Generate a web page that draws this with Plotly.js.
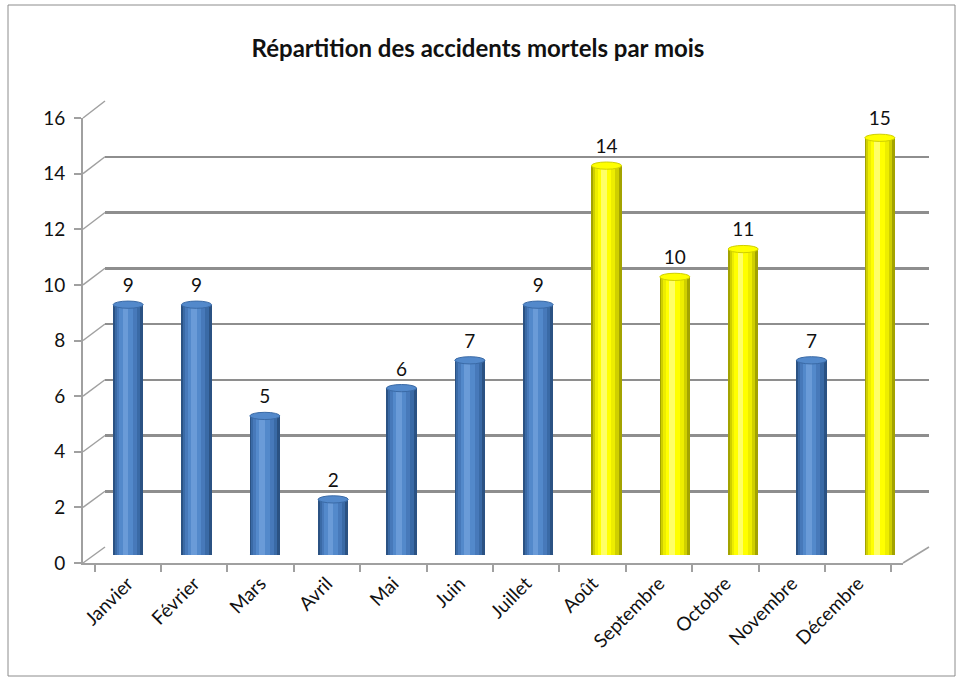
<!DOCTYPE html>
<html><head><meta charset="utf-8">
<script src="https://cdn.plot.ly/plotly-3.0.1.min.js"></script>
<style>html,body{margin:0;padding:0;background:#fff}#chart{width:960px;height:683px}</style>
</head><body><div id="chart"></div>
<script>
const months = ['Janvier','Février','Mars','Avril','Mai','Juin','Juillet','Août','Septembre','Octobre','Novembre','Décembre'];
const deaths = [9,9,5,2,6,7,9,14,10,11,7,15];
const highlighted = [false,false,false,false,false,false,false,true,true,true,false,true];
const yTicks = [0,2,4,6,8,10,12,14,16];

const W = 960, H = 683;
const fx = p => p / W, fy = p => 1 - p / H;
// geometry (pixels)
const front = {x0: 83, x1: 903, y0: 563, y16: 118};
const back  = {x0: 105, x1: 929, y0: 547, y16: 101};
const mid   = {x0: 94, x1: 914, y0: 555, y16: 110};

const blue = ['#2b5283','#3a6aa6','#4779ba','#5389cb','#6a9bd8'];
const yel  = ['#a3a300','#cfcf00','#eded00','#ffff00','#ffff66'];
const pal = i => highlighted.map(h => h ? yel[i] : blue[i]);

const idx = months.map((m,i)=>i);
const layers = [
  {w:0.44, off:-0.22, c:0},
  {w:0.38, off:-0.20, c:1},
  {w:0.30, off:-0.17, c:2},
  {w:0.20, off:-0.13, c:3},
  {w:0.08, off:-0.08, c:4}
];
const traces = [];
traces.push({x:[0,1], y:[0,16], xaxis:'x', yaxis:'y', mode:'markers', marker:{opacity:0}, hoverinfo:'skip', showlegend:false});
traces.push({x:months, y:deaths, xaxis:'x2', yaxis:'y2', type:'scatter', mode:'markers', marker:{opacity:0}, hoverinfo:'skip', showlegend:false});
layers.forEach(l => {
  traces.push({type:'bar', x:idx, y:deaths, xaxis:'x3', yaxis:'y3', width:l.w, offset:l.off,
    marker:{color:pal(l.c), line:{width:0}}, hoverinfo:'skip', showlegend:false});
});
traces.push({type:'scatter', x:idx, y:deaths, xaxis:'x3', yaxis:'y3', mode:'markers+text', cliponaxis:false,
  text:deaths.map(String), textposition:'top center', marker:{size:11, opacity:0},
  textfont:{family:'Lato, "Open Sans", sans-serif', size:19, color:'#111'}, hoverinfo:'skip', showlegend:false});

const shapes = [];
shapes.push({type:'rect', xref:'paper', yref:'paper', x0:fx(8), x1:fx(955), y0:fy(676), y1:fy(5), line:{color:'#8c8c8c', width:1}, layer:'below'});
yTicks.forEach(v => {
  const yf = front.y0 - v*(front.y0-front.y16)/16;
  const yb = back.y0 - v*(back.y0-back.y16)/16;
  shapes.push({type:'line', xref:'paper', yref:'paper', x0:fx(front.x0), y0:fy(yf), x1:fx(back.x0), y1:fy(yb), line:{color:'#a0a0a0', width:1.5}, layer:'below'});
});
shapes.push({type:'line', xref:'paper', yref:'paper', x0:fx(front.x1), y0:fy(front.y0), x1:fx(back.x1), y1:fy(back.y0), line:{color:'#a0a0a0', width:1.5}, layer:'below'});
deaths.forEach((v,i) => {
  const c = highlighted[i] ? yel : blue;
  shapes.push({type:'circle', xref:'x3', yref:'y3', x0:i-0.22, x1:i+0.22, y0:-0.13, y1:0.13, fillcolor:c[1], line:{width:0}, layer:'below'});
  shapes.push({type:'circle', xref:'x3', yref:'y3', x0:i-0.22, x1:i+0.22, y0:v-0.13, y1:v+0.13, fillcolor:c[3], line:{color:c[1], width:1}, layer:'above'});
});

const axFont = {family:'Lato, "Open Sans", sans-serif', size:19, color:'#111'};
const layout = {
  width:W, height:H, margin:{l:0,r:0,t:0,b:0}, paper_bgcolor:'#fff', plot_bgcolor:'rgba(0,0,0,0)',
  title:{text:'<b>Répartition des accidents mortels par mois</b>', font:{family:'Lato, "Open Sans", sans-serif', size:24, color:'#111'}, x:fx(478), xanchor:'center', y:fy(49), yanchor:'middle', xref:'paper', yref:'container'},
  xaxis:{domain:[fx(back.x0), fx(back.x1)], range:[0,1], showgrid:false, zeroline:false, showticklabels:false, showline:false, ticks:'', anchor:'y', fixedrange:true},
  yaxis:{domain:[fy(back.y0), fy(back.y16)], range:[0,16], dtick:2, showgrid:true, gridcolor:'#8e8e8e', gridwidth:2.5, zeroline:false, showticklabels:false, showline:false, ticks:'', anchor:'x'},
  xaxis2:{domain:[fx(front.x0), fx(front.x1)], type:'category', anchor:'y2', showgrid:false, zeroline:false, showline:true, linecolor:'#a0a0a0', linewidth:2,
    ticks:'outside', tickson:'boundaries', ticklen:7, tickcolor:'#a0a0a0', tickwidth:2, tickangle:-45, tickfont:axFont},
  yaxis2:{domain:[fy(front.y0), fy(front.y16)], range:[0,16], dtick:2, anchor:'x2', showgrid:false, zeroline:false, showline:true, linecolor:'#a0a0a0', linewidth:2,
    ticks:'outside', ticklen:7, tickcolor:'#a0a0a0', tickwidth:2, tickfont:axFont, ticklabelstandoff:5},
  xaxis3:{domain:[fx(mid.x0), fx(mid.x1)], range:[-0.5,11.5], anchor:'y3', showgrid:false, zeroline:false, showticklabels:false, showline:false, ticks:''},
  yaxis3:{domain:[fy(mid.y0), fy(mid.y16)], range:[0,16], anchor:'x3', showgrid:false, zeroline:false, showticklabels:false, showline:false, ticks:''},
  barmode:'overlay', bargap:0, shapes:shapes, showlegend:false
};
Plotly.newPlot('chart', traces, layout, {displayModeBar:false, staticPlot:true});
</script></body></html>
